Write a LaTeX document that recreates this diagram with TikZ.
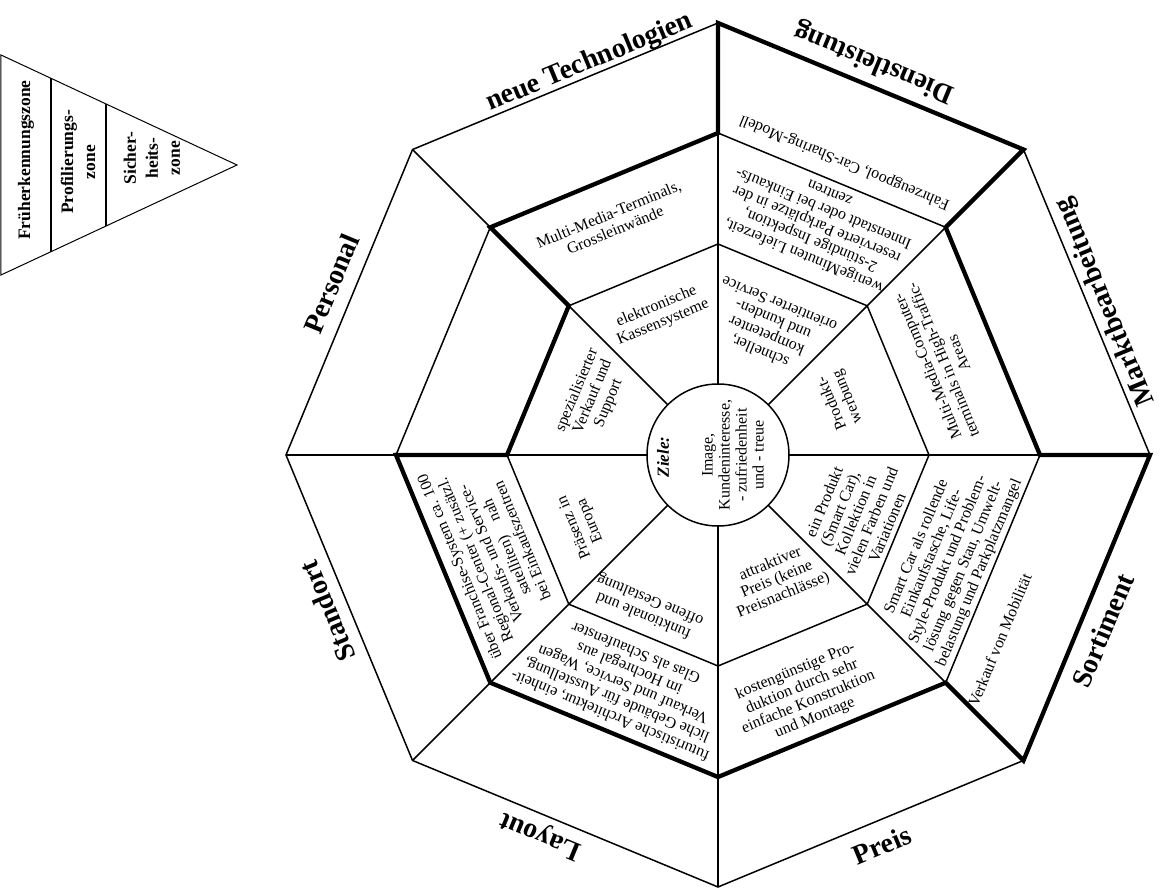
\documentclass[tikz,border=0pt]{standalone}
\usepackage{fontspec}
\setmainfont{Liberation Serif}
\usetikzlibrary{calc}

% Radien der Ringe
\newcommand{\rZiele}{71}
\newcommand{\rSicher}{211}
\newcommand{\rProfil}{322}
\newcommand{\rFrueh}{432}

\begin{document}
\begin{tikzpicture}[x=1pt, y=1pt,
    feld/.style={line width=1.5pt},
    profil/.style={line width=4.3pt},
    txt/.style={font=\fontsize{16}{17}\selectfont, align=center, inner sep=0pt},
    lab/.style={font=\fontsize{28}{30}\selectfont\bfseries, inner sep=0pt},
    zone/.style={font=\fontsize{17.5}{22}\selectfont\bfseries, align=center, inner sep=0pt, rotate=90}]
  \useasboundingbox (-718,-433) rectangle (443,455);

  % Legende: Dreieck mit den drei Zonen
  \coordinate (zt) at (-717,400);
  \coordinate (zb) at (-717,180);
  \coordinate (zs) at (-481,290);
  \draw[line width=1pt] (zt) -- (zs) -- (zb) -- cycle;
  \draw[line width=1.3pt] ($(zt)!0.212!(zs)$) -- ($(zb)!0.212!(zs)$);
  \draw[line width=1.3pt] ($(zt)!0.445!(zs)$) -- ($(zb)!0.445!(zs)$);
  \node[zone] (fz) at (-692,295) {Früherkennungszone};
  \node[zone] (pz) at (-640,293) {Profilierungs-\\zone};
  \node[zone] (sz) at (-566,297) {Sicher-\\heits-\\zone};

  % Achtecke, Speichen und Kreis
  \foreach \r in {\rSicher,\rProfil,\rFrueh}
    \draw[feld] (0:\r) \foreach \a in {45,90,...,315} { -- (\a:\r) } -- cycle;
  \foreach \a in {0,45,...,315}
    \draw[feld] (\a:\rZiele) -- (\a:\rFrueh);
  \draw[feld, fill=white] (0,0) circle (\rZiele);

  % Profillinie
  \draw[profil] (90:\rFrueh) -- (45:\rFrueh) -- (45:\rProfil) -- (0:\rProfil)
    -- (0:\rFrueh) -- (-45:\rFrueh) -- (-45:\rProfil) -- (-90:\rProfil)
    -- (-135:\rProfil) -- (180:\rProfil) -- (180:\rSicher) -- (135:\rSicher)
    -- (135:\rProfil) -- (90:\rProfil) -- cycle;

  % Ziele in der Mitte
  \node[font=\fontsize{17}{18}\selectfont\bfseries\itshape, rotate=90, inner sep=0pt] (ziel) at (-55,-2) {Ziele:};
  \node[txt, rotate=90] (zieltxt) at (15,0) {Image,\\Kundeninteresse,\\- zufriedenheit\\und - treue};

  % neue Technologien
  \node[txt, rotate=22.5] (nt1) at (112.5:152) {elektronische\\Kassensysteme};
  \node[txt, rotate=22.5] (nt2) at (114.5:256) {Multi-Media-Terminals,\\Grossleinwände};
  % Dienstleistung
  \node[txt, rotate=157.5] (dl1) at (67.9:137) {schneller,\\kompetenter\\und kunden-\\orientierter Service};
  \node[txt, rotate=157.5] (dl2) at (66.8:250) {wenigeMinuten Lieferzeit,\\2-stündige Inspektion,\\reservierte Parkplätze in der\\Innenstadt oder bei Einkaufs-\\zentren};
  \node[txt, rotate=157.5] (dl3) at (66.6:319) {Fahrzeugpool, Car-Sharing-Modell};
  % Marktbearbeitung
  \node[txt, rotate=112.5] (mb1) at (24.3:134) {Produkt-\\werbung};
  \node[txt, rotate=112.5] (mb2) at (22.9:244) {Multi-Media-Computer-\\terminals in High-Traffic-\\Areas};
  % Sortiment
  \node[txt, rotate=67.5] (so1) at (-23.5:150) {ein Produkt\\(Smart Car),\\Kollektion in\\vielen Farben und\\Variationen};
  \node[txt, rotate=67.5] (so2) at (-24.5:253) {Smart Car als rollende\\Einkaufstasche, Life-\\Style-Produkt und Problem-\\lösung gegen Stau, Umwelt-\\belastung und Parkplatzmangel};
  \node[txt, rotate=67.5] (so3) at (-33.3:337) {Verkauf von Mobilität};
  % Preis
  \node[txt, rotate=22.5] (pr1) at (-64.7:138) {attraktiver\\Preis (keine\\Preisnachlässe)};
  \node[txt, rotate=22.5] (pr2) at (-70:255) {kostengünstige Pro-\\duktion durch sehr\\einfache Konstruktion\\und Montage};
  % Layout
  \node[txt, rotate=157.5] (la1) at (-115:168) {funktionale und\\offene Gestaltung};
  \node[txt, rotate=157.5] (la2) at (-112.5:249) {futuristische Architektur, einheit-\\liche Gebäude für Ausstellung,\\Verkauf und Service, Wagen\\im Hochregal aus\\Glas als Schaufenster};
  % Standort
  \node[txt, rotate=112.5] (st1) at (-153:152) {Präsenz in\\Europa};
  \node[txt, rotate=112.5] (st2) at (-156.5:248) {über Franchise-System ca. 100\\Regional-Center (+ zusätzl.\\Verkaufs- und Service-\\satelliten)\hspace{0.8em} nah\\bei Einkaufszentren};
  % Personal
  \node[txt, rotate=67.5] (pe1) at (155:138) {spezialisierter\\Verkauf und\\Support};

  % Bereiche aussen
  \node[lab, rotate=22.5] (lnt) at (108.1:413) {neue Technologien};
  \node[lab, rotate=157.5] (ldl) at (68.3:423) {Dienstleistung};
  \node[lab, rotate=112.5] (lmb) at (21.6:417) {Marktbearbeitung};
  \node[lab, rotate=67.5] (lso) at (-24.5:423) {Sortiment};
  \node[lab, rotate=22.5] (lpr) at (-67.2:423) {Preis};
  \node[lab, rotate=157.5] (lla) at (-115:419) {Layout};
  \node[lab, rotate=112.5] (lst) at (-158.2:421) {Standort};
  \node[lab, rotate=67.5] (lpe) at (156.1:423) {Personal};
\end{tikzpicture}
\end{document}
